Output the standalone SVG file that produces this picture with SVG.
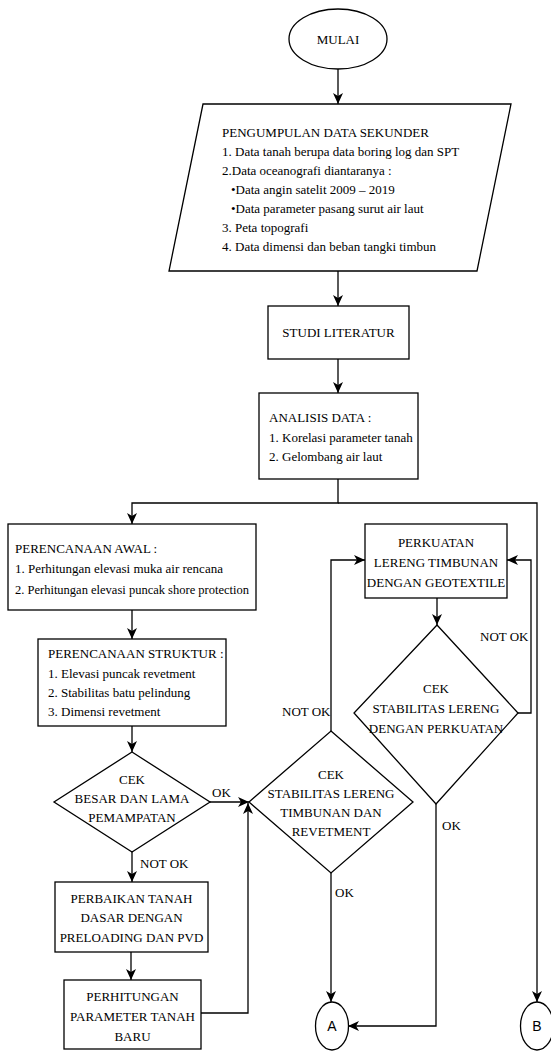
<svg xmlns="http://www.w3.org/2000/svg" width="551" height="1052" viewBox="0 0 551 1052">
<style>
.s{fill:#fff;stroke:#000;stroke-width:1.3}
.c{fill:none;stroke:#000;stroke-width:1.3;marker-end:url(#ah)}
.l{fill:none;stroke:#000;stroke-width:1.3}
text{font-family:"Liberation Serif","Times New Roman",serif;font-size:13px;fill:#000}
.m{text-anchor:middle}
.cs{font-family:"Liberation Sans",Arial,sans-serif;font-size:14px}
</style>
<defs>
<marker id="ah" markerUnits="userSpaceOnUse" markerWidth="12" markerHeight="10" refX="11" refY="5" orient="auto">
<path d="M0,0 L11,5 L0,10 L3,5 z" fill="#000"/>
</marker>
</defs>
<rect width="551" height="1052" fill="#fff"/>
<g id="connectors">
<path class="c" d="M338,69 V104"/>
<path class="c" d="M338,271 V306"/>
<path class="c" d="M338,359 V393"/>
<path class="c" d="M338,479 V503 H132 V524"/>
<path class="c" d="M338,503 H537 V1002"/>
<path class="c" d="M132,610 V639"/>
<path class="c" d="M132,726 V752"/>
<path class="c" d="M209,802 H249"/>
<path class="c" d="M132,852 V882"/>
<path class="c" d="M131,952 V980"/>
<path class="c" d="M201,1013 H248 V803"/>
<path class="c" d="M331,731 V560 H365"/>
<path class="c" d="M437,598 V625"/>
<path class="c" d="M517,713 H531 V560 H507"/>
<path class="c" d="M436,804 V1026 H348"/>
<path class="c" d="M331,873 V1002"/>
<text x="212" y="797">OK</text>
<text x="140" y="868">NOT OK</text>
<text x="282" y="716">NOT OK</text>
<text x="480" y="641">NOT OK</text>
<text x="442" y="830">OK</text>
<text x="335" y="897">OK</text>
</g>
<g id="mulai">
<ellipse class="s" cx="338" cy="39" rx="49" ry="30"/>
<text class="m" x="338" y="44">MULAI</text>
</g>
<g id="pengumpulan">
<polygon class="s" points="203,104 511,104 477,271 169,271"/>
<text x="222" y="137">PENGUMPULAN DATA SEKUNDER</text>
<text x="222" y="156">1. Data tanah berupa data boring log dan SPT</text>
<text x="222" y="175">2.Data oceanografi diantaranya :</text>
<text x="231" y="194">•Data angin satelit 2009 – 2019</text>
<text x="231" y="213">•Data parameter pasang surut air laut</text>
<text x="222" y="232">3. Peta topografi</text>
<text x="222" y="251">4. Data dimensi dan beban tangki timbun</text>
</g>
<g id="studi">
<rect class="s" x="268" y="306" width="141" height="53"/>
<text class="m" x="338.5" y="337">STUDI LITERATUR</text>
</g>
<g id="analisis">
<rect class="s" x="259" y="393" width="159" height="86"/>
<text x="269" y="422">ANALISIS DATA :</text>
<text x="269" y="442">1. Korelasi parameter tanah</text>
<text x="269" y="461">2. Gelombang air laut</text>
</g>
<g id="awal">
<rect class="s" x="8" y="524" width="248" height="86"/>
<text x="15" y="553">PERENCANAAN AWAL :</text>
<text x="15" y="573">1. Perhitungan elevasi muka air rencana</text>
<text x="15" y="594" textLength="234" lengthAdjust="spacingAndGlyphs">2. Perhitungan elevasi puncak shore protection</text>
</g>
<g id="struktur">
<rect class="s" x="38" y="639" width="188" height="87"/>
<text x="48" y="658">PERENCANAAN STRUKTUR :</text>
<text x="48" y="678">1. Elevasi puncak revetment</text>
<text x="48" y="697">2. Stabilitas batu pelindung</text>
<text x="48" y="716">3. Dimensi revetment</text>
</g>
<g id="cek-pemampatan">
<polygon class="s" points="132,752 210,802 132,852 54,802"/>
<text class="m" x="132" y="784">CEK</text>
<text class="m" x="132" y="803">BESAR DAN LAMA</text>
<text class="m" x="132" y="822">PEMAMPATAN</text>
</g>
<g id="perbaikan">
<rect class="s" x="55" y="882" width="153" height="70"/>
<text class="m" x="131.5" y="903">PERBAIKAN TANAH</text>
<text class="m" x="131.5" y="922">DASAR DENGAN</text>
<text class="m" x="131.5" y="942">PRELOADING DAN PVD</text>
</g>
<g id="perhitungan">
<rect class="s" x="64" y="980" width="137" height="69"/>
<text class="m" x="132.5" y="1001">PERHITUNGAN</text>
<text class="m" x="132.5" y="1021">PARAMETER TANAH</text>
<text class="m" x="132.5" y="1041">BARU</text>
</g>
<g id="cek-stabilitas">
<polygon class="s" points="331,731 413,802 331,873 249,802"/>
<text class="m" x="331" y="779">CEK</text>
<text class="m" x="331" y="798">STABILITAS LERENG</text>
<text class="m" x="331" y="817">TIMBUNAN DAN</text>
<text class="m" x="331" y="836">REVETMENT</text>
</g>
<g id="perkuatan">
<rect class="s" x="365" y="524" width="142" height="74"/>
<text class="m" x="436" y="547">PERKUATAN</text>
<text class="m" x="436" y="567">LERENG TIMBUNAN</text>
<text class="m" x="436" y="587">DENGAN GEOTEXTILE</text>
</g>
<g id="cek-perkuatan">
<polygon class="s" points="437,625 518,713 436,804 354,713"/>
<text class="m" x="436" y="693">CEK</text>
<text class="m" x="436" y="713">STABILITAS LERENG</text>
<text class="m" x="436" y="733">DENGAN PERKUATAN</text>
</g>
<g id="conn-a">
<ellipse class="s" cx="332" cy="1026" rx="16.5" ry="24"/>
<text class="m cs" x="332" y="1031">A</text>
</g>
<g id="conn-b">
<ellipse class="s" cx="537" cy="1026" rx="16.5" ry="24"/>
<text class="m cs" x="537" y="1031">B</text>
</g>
</svg>
